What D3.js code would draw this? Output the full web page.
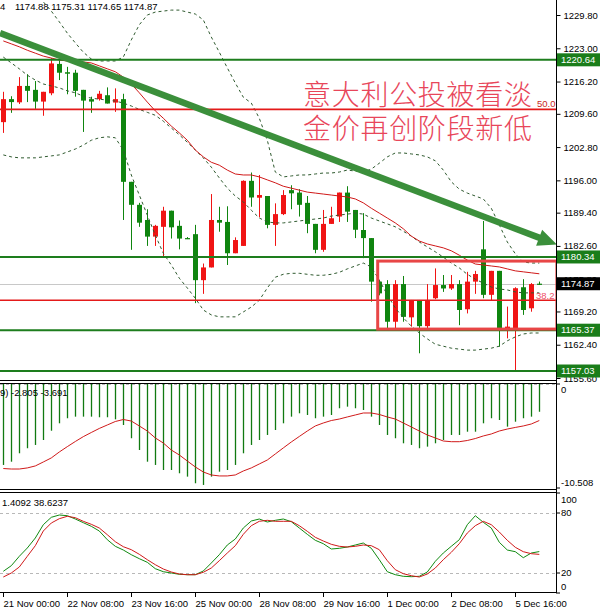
<!DOCTYPE html>
<html><head><meta charset="utf-8">
<script src="https://cdn.jsdelivr.net/npm/d3@7"></script>
<style>html,body{margin:0;padding:0;background:#fff;}svg{display:block;}</style>
</head><body>
<svg id="c" width="600" height="611"></svg>
<script>
// ---------- DATA ----------
const timeTickIndex = [0, 8, 16, 24, 32, 40, 48, 56, 64];
const timeTickLabels = ["21 Nov 00:00","22 Nov 08:00","23 Nov 16:00","25 Nov 00:00","28 Nov 08:00","29 Nov 16:00","1 Dec 00:00","2 Dec 08:00","5 Dec 16:00"];

const openP  = [1207.9,1212.6,1211.95,1215.3,1214.5,1212.1,1213.8,1219.8,1218.1,1218.0,1214.5,1212.6,1212.6,1213.4,1211.9,1212.6,1195.7,1191.0,1187.9,1184.5,1186.5,1189.8,1186.7,1184.2,1185.0,1175.6,1178.2,1187.9,1187.5,1181.1,1182.6,1195.9,1192.45,1192.8,1186.9,1189.1,1194.0,1193.5,1191.4,1187.1,1181.8,1187.1,1188.6,1193.5,1189.95,1185.85,1184.2,1175.3,1174.8,1167.1,1174.8,1168.0,1171.55,1166.2,1171.9,1174.6,1173.9,1174.8,1169.65,1175.3,1181.9,1172.6,1177.5,1165.55,1165.75,1174.15,1169.85,1174.88];
const highP  = [1214.1,1213.2,1217.1,1217.7,1216.3,1214.1,1221.0,1220.5,1219.2,1218.6,1214.5,1213.1,1214.3,1215.0,1214.8,1213.7,1195.7,1191.4,1190.1,1186.9,1190.6,1189.8,1187.8,1184.4,1186.9,1179.0,1193.2,1190.6,1190.7,1184.35,1196.0,1197.6,1197.1,1192.8,1191.3,1194.0,1195.0,1194.2,1192.8,1187.1,1189.95,1190.6,1193.5,1194.8,1189.95,1189.3,1184.2,1175.6,1175.6,1175.6,1176.45,1171.55,1171.55,1174.8,1178.0,1176.65,1176.65,1175.6,1177.3,1177.5,1187.7,1177.5,1177.5,1170.2,1174.15,1175.8,1175.0,1175.31];
const lowP   = [1205.7,1209.8,1211.6,1212.0,1210.6,1209.2,1213.4,1216.5,1213.6,1213.1,1205.9,1209.8,1212.3,1211.7,1210.0,1187.9,1181.8,1186.5,1182.6,1182.6,1180.4,1184.1,1181.9,1184.0,1170.9,1172.8,1178.2,1185.5,1178.7,1181.1,1182.6,1190.6,1188.45,1186.2,1182.6,1188.9,1190.1,1188.6,1185.2,1181.1,1181.4,1187.1,1187.5,1187.5,1184.2,1180.1,1171.2,1172.5,1165.75,1165.75,1167.1,1166.1,1160.65,1165.75,1171.7,1173.2,1173.6,1166.4,1168.8,1172.8,1171.9,1171.55,1162.0,1163.7,1156.9,1168.5,1169.15,1174.65];
const closeP = [1212.6,1212.0,1215.3,1214.3,1212.1,1214.1,1219.9,1218.0,1217.8,1214.3,1212.3,1212.1,1213.7,1211.7,1212.6,1195.7,1191.0,1187.35,1184.5,1186.7,1189.8,1186.4,1184.1,1184.1,1175.6,1178.2,1187.9,1187.35,1181.1,1183.8,1195.9,1192.5,1193.0,1186.9,1189.1,1193.0,1193.35,1191.0,1187.1,1181.8,1187.1,1188.25,1193.5,1189.6,1185.9,1184.2,1175.3,1172.9,1167.1,1174.8,1168.1,1171.55,1166.2,1171.55,1174.6,1173.9,1174.8,1169.5,1175.3,1176.85,1172.6,1177.5,1165.75,1166.1,1173.95,1169.5,1174.8,1174.87];

const maLine  = [1224.5,1223.9,1223.3,1222.6,1222.0,1221.4,1221.0,1220.6,1220.4,1220.4,1220.2,1220.0,1219.4,1218.8,1218.2,1217.1,1215.7,1213.9,1212.0,1210.2,1208.7,1207.1,1205.7,1204.2,1202.2,1200.8,1199.7,1199.1,1198.1,1197.3,1197.1,1197.1,1196.7,1196.1,1195.5,1194.8,1194.4,1194.0,1193.6,1193.4,1193.2,1193.0,1192.8,1192.6,1192.2,1191.4,1190.3,1189.3,1188.3,1187.3,1186.1,1184.6,1183.6,1183.0,1182.6,1182.2,1181.6,1180.7,1179.7,1178.9,1178.7,1178.5,1178.3,1177.9,1177.5,1177.3,1177.1,1176.9];
const bbUpper = [1243.1,1241.0,1239.0,1237.0,1234.7,1232.5,1230.6,1228.4,1226.1,1224.1,1222.2,1220.8,1220.4,1220.4,1220.4,1221.2,1224.7,1227.8,1229.8,1230.4,1230.6,1230.8,1230.8,1230.4,1230.0,1228.8,1225.3,1222.2,1219.0,1215.9,1213.0,1211.8,1208.7,1204.2,1197.7,1196.7,1196.9,1197.1,1197.1,1197.3,1197.5,1197.5,1197.7,1198.1,1197.9,1197.7,1198.3,1199.5,1200.8,1201.6,1201.6,1201.4,1201.2,1200.8,1200.0,1198.1,1195.7,1194.2,1193.4,1192.8,1192.2,1190.3,1186.9,1183.4,1181.0,1179.3,1179.1,1179.1];
const bbMid   = [1221.2,1220.0,1218.8,1217.5,1216.5,1215.7,1215.3,1214.9,1214.3,1213.9,1213.2,1212.8,1212.6,1212.4,1212.2,1211.8,1211.2,1210.5,1209.9,1209.3,1208.1,1206.7,1205.3,1203.8,1202.2,1200.6,1198.7,1196.5,1194.4,1192.8,1191.6,1189.9,1188.3,1187.5,1187.3,1187.3,1187.5,1187.7,1187.9,1188.1,1188.3,1188.7,1188.9,1189.1,1189.3,1189.1,1188.3,1187.7,1187.1,1186.5,1185.6,1184.6,1183.4,1182.4,1181.4,1180.3,1179.1,1178.1,1176.8,1175.8,1175.0,1174.2,1173.8,1173.6,1173.2,1173.0,1173.0,1173.0];
const bbLower = [1201.2,1200.8,1200.6,1200.6,1200.6,1200.8,1201.0,1201.2,1201.8,1202.4,1203.2,1204.2,1204.7,1204.9,1204.7,1202.2,1197.1,1193.0,1188.9,1184.8,1181.1,1178.7,1176.0,1174.0,1171.9,1169.5,1168.5,1168.1,1168.1,1168.1,1169.1,1170.1,1171.5,1174.0,1176.2,1176.8,1177.0,1177.0,1176.8,1176.6,1176.6,1176.8,1177.2,1177.9,1178.5,1179.1,1178.3,1175.6,1172.6,1169.9,1167.9,1166.2,1164.8,1163.6,1162.5,1162.1,1161.7,1161.5,1161.3,1161.3,1161.5,1161.7,1162.1,1163.2,1164.0,1164.6,1164.8,1164.8];

const macdHist   = [-8.18,-7.85,-7.00,-6.49,-6.16,-5.66,-4.72,-3.97,-3.46,-3.30,-3.30,-3.30,-3.36,-3.36,-3.57,-4.14,-5.48,-6.67,-7.85,-8.18,-8.69,-8.69,-9.02,-9.36,-10.03,-10.20,-9.36,-8.86,-8.69,-8.18,-7.00,-6.16,-5.66,-5.15,-4.65,-3.97,-3.30,-2.96,-3.13,-3.46,-3.30,-3.13,-2.45,-2.29,-2.45,-2.63,-3.30,-4.14,-5.15,-5.48,-5.99,-6.16,-6.49,-6.33,-5.99,-5.66,-5.15,-5.15,-4.82,-4.82,-3.97,-3.46,-3.64,-4.31,-3.81,-3.46,-3.30,-2.805];
const macdSignal = [-8.54,-8.59,-8.59,-8.48,-8.28,-7.88,-7.47,-6.87,-6.33,-5.81,-5.32,-4.90,-4.49,-4.14,-3.79,-3.59,-3.74,-4.24,-4.75,-5.45,-5.96,-6.67,-7.17,-7.78,-8.38,-8.89,-9.19,-9.29,-9.29,-9.19,-8.79,-8.48,-8.08,-7.68,-7.07,-6.46,-5.86,-5.30,-4.75,-4.24,-3.94,-3.69,-3.54,-3.33,-3.13,-2.93,-2.93,-3.08,-3.33,-3.54,-3.94,-4.34,-4.75,-5.15,-5.45,-5.76,-5.83,-5.83,-5.71,-5.51,-5.25,-5.05,-4.75,-4.55,-4.39,-4.24,-4.04,-3.691];

const stochK = [21.7,27.3,36.7,45,55,68.3,75.7,78,77.3,74,70.3,66.7,62,53.3,46.7,43,38.3,34.3,30.7,24.3,21.3,20,18.7,18.3,18.3,22,30,38.3,48,54,65,72,74,71,72.7,74,71.3,65,58.7,52.7,49.3,44,44.7,46,48,50,44.7,33.3,21.3,18.3,16.7,16.3,16.7,21,31.7,40,46.7,53.3,68.3,77.3,70.7,65,50.7,43,41.3,35.3,40,41.41];
const stochD = [16,20,26,36.7,47.3,62,70,74.3,76.7,75.3,71.7,68.7,65,58.3,51.3,46.3,43.3,38.7,33.3,28.3,24,21,19,18.3,18.3,20.7,25,32.3,40,47.3,58.7,67.3,71.7,72.7,71.7,71.7,71.7,67.3,61.7,55.7,52,48.7,46.7,46,46.7,48,47.3,43.3,32.3,23.3,19.3,17.3,16,19,25,33.3,40.7,49.3,60,67.3,71.7,68.3,61,52.7,45.7,41.3,39.3,38.62];

const priceTicks = [1229.80,1223.00,1216.20,1209.60,1202.80,1196.00,1189.40,1182.60,1175.80,1169.20,1162.40,1155.60];
const greenLevels = [1220.64, 1180.34, 1165.37, 1157.03];
const currentPrice = 1174.87;
const fibLevels = [1210.5, 1171.5];
const fibLabels = ["50.0", "38.2"];
const macdTicks = [0, -10.508];
const macdTickLabels = ["0", "-10.508"];
const stochTicks = [100, 80, 20, 0];
const stochLevels = [80, 20];
const trendLine = [[-0.41, 1226.1], [69.2, 1182.9]];
const boxRange = {i0: 46.8, i1: 69.2, top: 1179.5, bottom: 1165.6};
const headerMain = ["4", "1174.88 1175.31 1174.65 1174.87"];
const headerMacd = ["9)", "-2.805 -3.691"];
const headerStoch = "1.4092 38.6237";
const noteLines = ["意大利公投被看淡", "金价再创阶段新低"];

// ---------- CHART ----------
const svg = d3.select("#c");
const FONT = "'Liberation Sans', Arial, sans-serif";
const AX = 556; // right axis x
const idx = d3.range(openP.length);

const x = d3.scaleLinear().domain([0, 67]).range([3.3, 539.3]);
const yP = d3.scaleLinear().domain([1155.6, 1229.8]).range([378, 15]);
const yM = d3.scaleLinear().domain([-10.508, 0]).range([488, 384]);
const yS = d3.scaleLinear().domain([0, 100]).range([593, 493]);

const defs = svg.append("defs");
defs.append("clipPath").attr("id","cMain").append("rect").attr("x",0).attr("y",0).attr("width",AX).attr("height",380);
defs.append("clipPath").attr("id","cMacd").append("rect").attr("x",0).attr("y",384).attr("width",AX).attr("height",105);
defs.append("clipPath").attr("id","cSto").append("rect").attr("x",0).attr("y",493).attr("width",AX).attr("height",99);

svg.append("rect").attr("width",600).attr("height",611).attr("fill","#fff");

// ---- main panel ----
const gM = svg.append("g").attr("clip-path","url(#cMain)");
gM.append("line").attr("x1",0).attr("x2",AX).attr("y1",Math.round(yP(currentPrice))+0.5).attr("y2",Math.round(yP(currentPrice))+0.5)
  .attr("stroke","#c8c8c8").attr("stroke-width",1);

// candles
const upC = "#f01414", dnC = "#0f850f";
const col = i => closeP[i] >= openP[i] ? upC : dnC;
gM.selectAll("line.wick").data(idx).join("line").attr("class","wick")
  .attr("x1", i => Math.round(x(i)) + 0.5).attr("x2", i => Math.round(x(i)) + 0.5)
  .attr("y1", i => yP(highP[i])).attr("y2", i => yP(lowP[i]))
  .attr("stroke", col).attr("stroke-width", 1);
gM.selectAll("rect.body").data(idx).join("rect").attr("class","body")
  .attr("x", i => Math.round(x(i)) - 2).attr("width", 5)
  .attr("y", i => yP(Math.max(openP[i], closeP[i])))
  .attr("height", i => Math.max(1.2, Math.abs(yP(openP[i]) - yP(closeP[i]))))
  .attr("fill", col);

// indicators
const lineP = arr => d3.line().x((d,i) => x(i)).y(d => yP(d))(arr);
[bbUpper, bbMid, bbLower].forEach(a => {
  gM.append("path").attr("d", lineP(a)).attr("fill","none").attr("stroke","#2f5a2f")
    .attr("stroke-width",1).attr("stroke-dasharray","3,3");
});
gM.append("path").attr("d", lineP(maLine)).attr("fill","none").attr("stroke","#d01818").attr("stroke-width",1);

// horizontal objects
greenLevels.forEach(p => {
  gM.append("line").attr("x1",0).attr("x2",AX).attr("y1",yP(p)).attr("y2",yP(p))
    .attr("stroke","#1d7d1d").attr("stroke-width",2);
});
fibLevels.forEach(p => {
  gM.append("line").attr("x1",0).attr("x2",AX).attr("y1",yP(p)).attr("y2",yP(p))
    .attr("stroke","#e41a1a").attr("stroke-width",1.6);
});
gM.append("text").attr("x",537).attr("y",yP(fibLevels[0]) - 2).text(fibLabels[0])
  .attr("font-family",FONT).attr("font-size",9.5).attr("fill","#c81e1e");

// red box
gM.append("rect").attr("x", x(boxRange.i0)).attr("y", yP(boxRange.top))
  .attr("width", x(boxRange.i1) - x(boxRange.i0)).attr("height", yP(boxRange.bottom) - yP(boxRange.top))
  .attr("fill","none").attr("stroke","#e84646").attr("stroke-width",3);
gM.append("text").attr("x",536).attr("y",yP(fibLevels[1]) - 1).text(fibLabels[1])
  .attr("font-family",FONT).attr("font-size",9.5).attr("fill","#f0506a");

// Chinese notes
noteLines.forEach((t, k) => {
  gM.append("text").attr("x",303).attr("y", k === 0 ? 105 : 138.5).text(t)
    .attr("font-family","'Noto Sans CJK SC', sans-serif").attr("font-weight",300)
    .attr("font-size",28).attr("fill","#e8465a")
    .attr("textLength",229).attr("lengthAdjust","spacing");
});

// header
gM.append("text").attr("x",0).attr("y",10).text(headerMain[0])
  .attr("font-family",FONT).attr("font-size",9.5).attr("fill","#000");
gM.append("text").attr("x",15).attr("y",10).text(headerMain[1])
  .attr("font-family",FONT).attr("font-size",9.5).attr("fill","#000");

// trend arrow
{
  const sx = x(trendLine[0][0]), sy = yP(trendLine[0][1]);
  const ex = x(trendLine[1][0]), ey = yP(trendLine[1][1]);
  const L = Math.hypot(ex - sx, ey - sy), ux = (ex - sx) / L, uy = (ey - sy) / L;
  const hl = 19, hw = 8.5;
  const bx = ex - ux * hl, by = ey - uy * hl;
  svg.append("line").attr("x1",sx).attr("y1",sy).attr("x2",bx + ux*2).attr("y2",by + uy*2)
    .attr("stroke","#3b8f3b").attr("stroke-width",6.5);
  svg.append("path").attr("d", `M${ex},${ey}L${bx - uy*hw},${by + ux*hw}L${bx + uy*hw},${by - ux*hw}Z`)
    .attr("fill","#3b8f3b");
}

// ---- MACD panel ----
const gD = svg.append("g").attr("clip-path","url(#cMacd)");
gD.append("line").attr("x1",0).attr("x2",AX).attr("y1",yM(0)+0.5).attr("y2",yM(0)+0.5)
  .attr("stroke","#b8b8b8").attr("stroke-dasharray","3,3");
gD.selectAll("line.h").data(idx).join("line").attr("class","h")
  .attr("x1", i => Math.round(x(i)) + 0.5).attr("x2", i => Math.round(x(i)) + 0.5)
  .attr("y1", yM(0)).attr("y2", i => yM(macdHist[i]))
  .attr("stroke","#117a11").attr("stroke-width",1.3);
gD.append("path").attr("d", d3.line().x((d,i)=>x(i)).y(d=>yM(d))(macdSignal))
  .attr("fill","none").attr("stroke","#d01a1a").attr("stroke-width",1);
gD.append("text").attr("x",0).attr("y",396).text(headerMacd[0])
  .attr("font-family",FONT).attr("font-size",9.5).attr("fill","#000");
gD.append("text").attr("x",11).attr("y",396).text(headerMacd[1])
  .attr("font-family",FONT).attr("font-size",9.5).attr("fill","#000");

// ---- Stochastic panel ----
const gS = svg.append("g").attr("clip-path","url(#cSto)");
stochLevels.forEach(v => {
  gS.append("line").attr("x1",0).attr("x2",AX).attr("y1",yS(v)+0.5).attr("y2",yS(v)+0.5)
    .attr("stroke","#b8b8b8").attr("stroke-dasharray","3,3");
});
const lineS = d3.line().x((d,i)=>x(i)).y(d=>yS(d));
gS.append("path").attr("d", lineS(stochK)).attr("fill","none").attr("stroke","#118a11").attr("stroke-width",1);
gS.append("path").attr("d", lineS(stochD)).attr("fill","none").attr("stroke","#d01a1a").attr("stroke-width",1);
gS.append("text").attr("x",2).attr("y",506).text(headerStoch)
  .attr("font-family",FONT).attr("font-size",9.5).attr("fill","#000");

// ---- frame lines ----
[380.5, 383.5, 489.5, 492.5, 592.5].forEach(yy => {
  svg.append("line").attr("x1",0).attr("x2",AX).attr("y1",yy).attr("y2",yy).attr("stroke","#000").attr("stroke-width",1);
});
svg.append("line").attr("x1",AX+0.5).attr("x2",AX+0.5).attr("y1",0).attr("y2",593).attr("stroke","#000");

// ---- right axes ----
const axisStyle = g => {
  g.select(".domain").remove();
  g.selectAll(".tick line").attr("stroke","#000");
  g.selectAll(".tick text").attr("font-family",FONT).attr("font-size",9.5).attr("fill","#000");
};
svg.append("g").attr("transform",`translate(${AX+0.5},0)`)
  .call(d3.axisRight(yP).tickValues(priceTicks).tickFormat(d3.format(".2f")).tickSize(4).tickPadding(3))
  .call(axisStyle);

const gMA = svg.append("g");
macdTicks.forEach((v, k) => {
  const yy = yM(v);
  gMA.append("line").attr("x1",AX).attr("x2",AX+4).attr("y1",yy).attr("y2",yy).attr("stroke","#000");
  gMA.append("text").attr("x",AX+5).attr("y",Math.max(390, Math.min(483, yy))).attr("dy","0.32em")
    .text(macdTickLabels[k]).attr("font-family",FONT).attr("font-size",9.5).attr("fill","#000");
});
const gSA = svg.append("g");
stochTicks.forEach(v => {
  const yy = yS(v);
  gSA.append("line").attr("x1",AX).attr("x2",AX+4).attr("y1",yy).attr("y2",yy).attr("stroke","#000");
  gSA.append("text").attr("x",AX+5).attr("y",Math.max(500, Math.min(587, yy))).attr("dy","0.32em")
    .text(String(v)).attr("font-family",FONT).attr("font-size",9.5).attr("fill","#000");
});

// price label boxes
const tagBox = (p, bg, label) => {
  const yy = yP(p);
  svg.append("rect").attr("x",AX+1).attr("y",yy-6.5).attr("width",600-AX-1).attr("height",13).attr("fill",bg);
  svg.append("text").attr("x",AX+5).attr("y",yy).attr("dy","0.34em").text(label)
    .attr("font-family",FONT).attr("font-size",9.5).attr("fill","#fff");
};
greenLevels.forEach(p => tagBox(p, "#1a7d1a", p.toFixed(2)));
tagBox(currentPrice, "#000", currentPrice.toFixed(2));

// ---- time axis ----
const gT = svg.append("g");
timeTickIndex.forEach((ti, k) => {
  const xx = Math.round(x(ti)) + 0.5;
  gT.append("line").attr("x1",xx).attr("x2",xx).attr("y1",593).attr("y2",597).attr("stroke","#000");
  gT.append("text").attr("x",xx).attr("y",607).text(timeTickLabels[k])
    .attr("font-family",FONT).attr("font-size",9.5).attr("fill","#000");
});
</script>
</body></html>
